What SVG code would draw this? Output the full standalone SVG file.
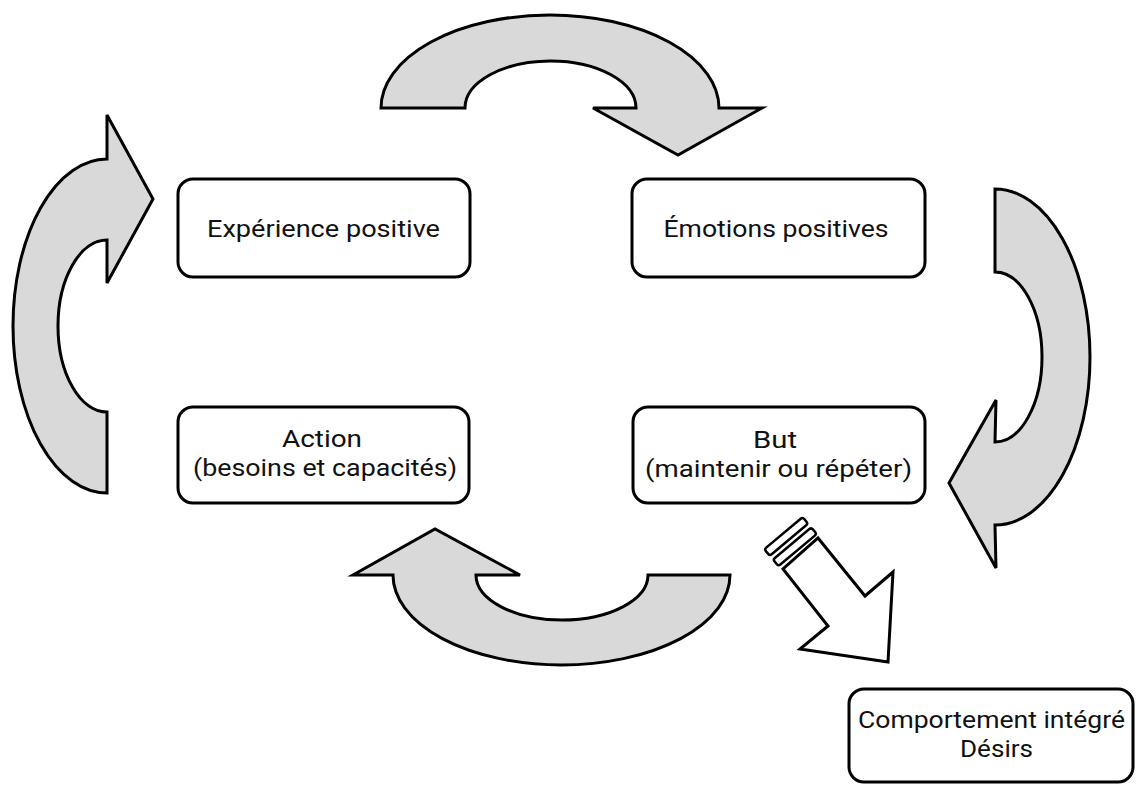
<svg xmlns="http://www.w3.org/2000/svg" width="1137" height="785" viewBox="0 0 1137 785">
<style>
.box{fill:#fff;stroke:#000;stroke-width:3}
.arr{fill:#d9d9d9;stroke:#000;stroke-width:3;stroke-linejoin:miter}
.arrw{fill:#fff;stroke:#000;stroke-width:3;stroke-linejoin:miter}
.stripe{fill:#fff;stroke:#000;stroke-width:2.5}
text{font-family:Roboto,"Liberation Sans",sans-serif;font-size:24px;fill:#111;text-anchor:middle}
</style>
<rect width="1137" height="785" fill="#fff"/>
<g id="connectors">
<path class="arr" d="M381,108 A169,93 0 0 1 719,108 L762,108 L678,155 L593,108 L636,108 A85.5,47 0 0 0 465,108 Z"/>
<path class="arr" d="M995,189 A95,168 0 0 1 995,525 L996,568 L949,483 L996,400 L995,442 A47,85 0 0 0 995,272 Z"/>
<path class="arr" d="M730,575 A168.5,90 0 0 1 393,575 L353,575 L435,529 L520,575 L476,575 A86,45 0 0 0 648,575 Z"/>
<path class="arr" d="M107,493 A94,167 0 0 1 107,159 L107,115 L153,199 L107,283 L107,240 A49,86 0 0 0 107,412 Z"/>
<g id="diag-arrow">
<polygon class="arrw" points="818,538 865,596 893,572 888,662 800,649 828,626 783,569"/>
<g transform="translate(800.5,553.5) rotate(50)">
<rect class="stripe" x="-13" y="-25" width="8.5" height="50" rx="2.5"/>
<rect class="stripe" x="-26.5" y="-25" width="8.5" height="50" rx="2.5"/>
</g>
</g>
</g>
<g id="node-experience">
<rect class="box" x="178" y="179" width="292" height="98" rx="15"/>
<text x="323.5" y="237" textLength="233" lengthAdjust="spacingAndGlyphs">Expérience positive</text>
</g>
<g id="node-emotions">
<rect class="box" x="632" y="179" width="293" height="98" rx="15"/>
<text x="776" y="237" textLength="225" lengthAdjust="spacingAndGlyphs">Émotions positives</text>
</g>
<g id="node-action">
<rect class="box" x="178" y="407" width="291" height="96" rx="15"/>
<text x="322" y="447" textLength="80" lengthAdjust="spacingAndGlyphs">Action</text>
<text x="325" y="476" textLength="264" lengthAdjust="spacingAndGlyphs">(besoins et capacités)</text>
</g>
<g id="node-but">
<rect class="box" x="633" y="407" width="292" height="96" rx="15"/>
<text x="775" y="448" textLength="44" lengthAdjust="spacingAndGlyphs">But</text>
<text x="778.5" y="477" textLength="267" lengthAdjust="spacingAndGlyphs">(maintenir ou répéter)</text>
</g>
<g id="node-comportement">
<rect class="box" x="849" y="689" width="284" height="93" rx="15"/>
<text x="991.5" y="728" textLength="267" lengthAdjust="spacingAndGlyphs">Comportement intégré</text>
<text x="996.5" y="757" textLength="73" lengthAdjust="spacingAndGlyphs">Désirs</text>
</g>
</svg>
